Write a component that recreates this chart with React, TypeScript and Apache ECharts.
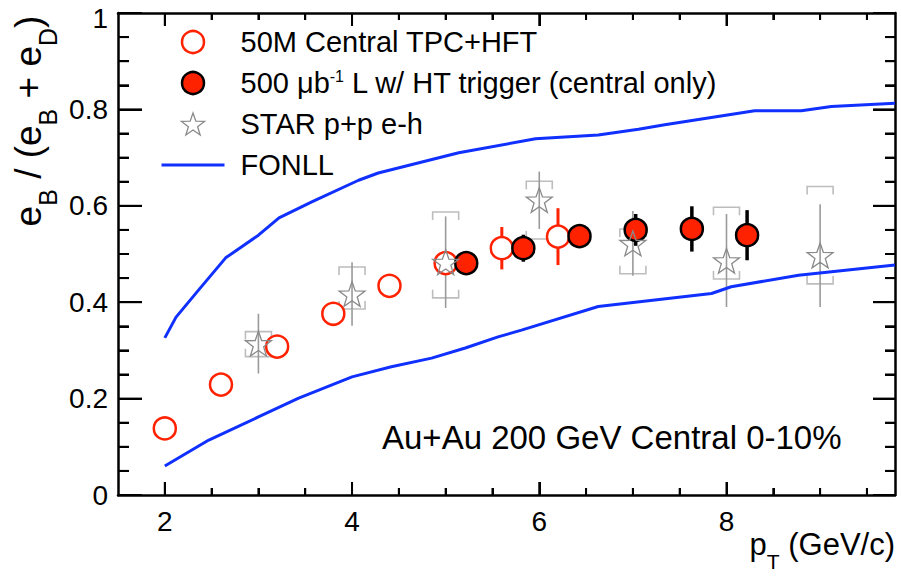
import React, { useEffect, useRef } from 'react';
import * as echarts from 'echarts';

// ---- Data ----
const openX = [2.0, 2.6, 3.2, 3.8, 4.4, 5.0, 5.6, 6.2];
const openY = [0.138, 0.229, 0.308, 0.376, 0.434, 0.481, 0.512, 0.536];
const openErr = [0.005, 0.006, 0.007, 0.008, 0.01, 0.024, 0.044, 0.059];

const filledX = [5.22, 5.83, 6.43, 7.03, 7.63, 8.22];
const filledY = [0.481, 0.512, 0.537, 0.55, 0.552, 0.539];
const filledErr = [0.024, 0.028, 0.022, 0.033, 0.047, 0.052];

const starX = [3, 4, 5, 6, 7, 8, 9];
const starY = [0.314, 0.417, 0.483, 0.612, 0.522, 0.486, 0.497];
const starStatLo = [0.252, 0.351, 0.388, 0.552, 0.455, 0.39, 0.39];
const starStatHi = [0.376, 0.483, 0.578, 0.671, 0.589, 0.583, 0.603];
const starSysLo = [0.287, 0.386, 0.409, 0.531, 0.459, 0.448, 0.438];
const starSysHi = [0.339, 0.473, 0.587, 0.651, 0.552, 0.597, 0.64];

const fonllUpX = [2.0, 2.12, 2.36, 2.65, 3.0, 3.22, 3.57, 4.07, 4.28, 5.14, 5.96, 6.63, 7.06, 7.34, 8.13, 8.3, 8.8, 9.12, 9.8];
const fonllUpY = [0.326, 0.369, 0.425, 0.492, 0.539, 0.575, 0.608, 0.653, 0.668, 0.71, 0.739, 0.747, 0.759, 0.768, 0.792, 0.797, 0.797, 0.806, 0.813];
const fonllLoX = [2.0, 2.47, 3.0, 3.43, 4.0, 4.42, 4.85, 5.21, 5.56, 5.81, 6.63, 7.84, 8.05, 8.77, 9.8];
const fonllLoY = [0.06, 0.114, 0.162, 0.201, 0.245, 0.266, 0.284, 0.305, 0.328, 0.342, 0.391, 0.418, 0.432, 0.456, 0.477];

// ---- Axis ticks ----
const X_MIN = 1.5;
const X_MAX = 9.8;
const Y_MIN = 0;
const Y_MAX = 1;
const xMajorTicks = [2, 4, 6, 8];
const xMinorTicks = [2.5, 3, 3.5, 4.5, 5, 5.5, 6.5, 7, 7.5, 8.5, 9, 9.5];
const yMajorTicks = [0.2, 0.4, 0.6, 0.8];
const yMinorTicks = [0.05, 0.1, 0.15, 0.25, 0.3, 0.35, 0.45, 0.5, 0.55, 0.65, 0.7, 0.75, 0.85, 0.9, 0.95];

const NAME_OPEN = '50M Central TPC+HFT';
const NAME_FILLED = '500 μb-1 L w/ HT trigger (central only)';
const NAME_STAR = 'STAR p+p e-h';
const NAME_FONLL = 'FONLL';

const FONT = '"Liberation Sans", Arial, Helvetica, sans-serif';
const RED = '#ff2200';
const BLUE = '#1030ff';
const STAR_PATH =
  'path://M50 0 L61.76 33.82 L97.55 34.55 L69.02 56.18 L79.39 90.45 L50 70 L20.61 90.45 L30.98 56.18 L2.45 34.55 L38.24 33.82 Z';

export default function App() {
  const ref = useRef<HTMLDivElement>(null);

  useEffect(() => {
    if (!ref.current) return;
    const chart = echarts.init(ref.current, null, { renderer: 'svg' });

    const mkAxisLine = () => ({ show: true, onZero: false, lineStyle: { color: '#000', width: 2.5 } });
    const mkTickLine = () => ({ color: '#000', width: 2 });

    const xAxisBase = (position: string, ticks: number[], len: number, showLine: boolean, labels: boolean) => ({
      type: 'value',
      min: X_MIN,
      max: X_MAX,
      position,
      splitLine: { show: false },
      axisLine: showLine ? mkAxisLine() : { show: false, onZero: false },
      axisTick: { show: true, inside: true, length: len, customValues: ticks, lineStyle: mkTickLine() },
      axisLabel: labels
        ? { show: true, customValues: ticks, fontSize: 28, margin: 12, color: '#000', fontFamily: FONT }
        : { show: false },
    });

    const errBar = (color: string, width: number) => (params: any, api: any) => {
      const x = api.value(0);
      const y = api.value(1);
      const e = api.value(2);
      const p1 = api.coord([x, y - e]);
      const p2 = api.coord([x, y + e]);
      return {
        type: 'line',
        shape: { x1: p1[0], y1: p1[1], x2: p2[0], y2: p2[1] },
        style: { stroke: color, lineWidth: width },
      };
    };

    const textGraphics: any[] = [
      {
        type: 'text',
        x: 29.5,
        y: 121,
        rotation: Math.PI / 2,
        style: {
          text: '{b|e}{s|B}{b| / (e}{s|B}{b| + e}{s|D}{b|)}',
          align: 'center',
          verticalAlign: 'middle',
          fill: '#000',
          rich: {
            b: { fontSize: 37, lineHeight: 40, verticalAlign: 'top', fontFamily: FONT, fill: '#000' },
            s: { fontSize: 25, lineHeight: 25, padding: [26, 0, 0, 0], verticalAlign: 'top', fontFamily: FONT, fill: '#000' },
          },
        },
      },
      {
        type: 'text',
        x: 895,
        y: 529,
        style: {
          text: '{b|p}{s|T}{b| (GeV/c)}',
          align: 'right',
          verticalAlign: 'top',
          fill: '#000',
          rich: {
            b: { fontSize: 31, lineHeight: 34, verticalAlign: 'top', fontFamily: FONT, fill: '#000' },
            s: { fontSize: 21, lineHeight: 21, padding: [22, 0, 0, 0], verticalAlign: 'top', fontFamily: FONT, fill: '#000' },
          },
        },
      },
      {
        type: 'text',
        x: 382,
        y: 437,
        style: {
          text: 'Au+Au 200 GeV Central 0-10%',
          fontSize: 33,
          fontFamily: FONT,
          fill: '#000',
          align: 'left',
          verticalAlign: 'middle',
        },
      },
    ];

    const option: any = {
      animation: false,
      backgroundColor: '#fff',
      grid: { left: 118, right: 6, top: 13, bottom: 89 },
      xAxis: [
        xAxisBase('bottom', xMajorTicks, 13, true, true),
        xAxisBase('bottom', xMinorTicks, 7, false, false),
        xAxisBase('top', xMajorTicks, 13, true, false),
        xAxisBase('top', xMinorTicks, 7, false, false),
      ],
      yAxis: [
        {
          type: 'value',
          min: Y_MIN,
          max: Y_MAX,
          interval: 0.2,
          position: 'left',
          axisLine: mkAxisLine(),
          axisTick: { show: true, inside: true, length: 24, lineStyle: mkTickLine() },
          minorTick: { show: true, splitNumber: 4, length: 11, lineStyle: mkTickLine() },
          axisLabel: {
            fontSize: 28,
            margin: 10,
            color: '#000',
            fontFamily: FONT,
            formatter: (v: number) => (v === 1 ? '{t|1}' : String(Math.round(v * 10) / 10)),
            rich: { t: { fontSize: 28, fontFamily: FONT, color: '#000', padding: [10, 0, 0, 0] } },
          },
          splitLine: { show: false },
          minorSplitLine: { show: false },
        },
        {
          type: 'value',
          min: Y_MIN,
          max: Y_MAX,
          interval: 0.2,
          position: 'right',
          axisLine: mkAxisLine(),
          axisTick: { show: true, inside: true, length: 22, lineStyle: mkTickLine() },
          minorTick: { show: true, splitNumber: 4, length: 10, lineStyle: mkTickLine() },
          axisLabel: { show: false },
          splitLine: { show: false },
          minorSplitLine: { show: false },
        },
      ],
      legend: {
        orient: 'vertical',
        left: 160,
        top: 27,
        padding: 0,
        itemWidth: 63,
        itemHeight: 22,
        itemGap: 11,
        selectedMode: false,
        symbolKeepAspect: true,
        textStyle: {
          fontSize: 29,
          lineHeight: 30,
          color: '#000',
          fontFamily: FONT,
          padding: [0, 0, 0, 11],
          rich: {
            a: { fontSize: 29, lineHeight: 30, color: '#000', fontFamily: FONT },
            sup: { fontSize: 16, lineHeight: 18, color: '#000', fontFamily: FONT, verticalAlign: 'top' },
          },
        },
        formatter: (name: string) =>
          name === NAME_FILLED
            ? '{a|500 μb}{sup|-1}{a| L w/ HT trigger (central only)}'
            : '{a|' + name + '}',
        data: [
          { name: NAME_OPEN, itemStyle: { borderWidth: 2.5 } },
          { name: NAME_FILLED, itemStyle: { borderWidth: 2.5 } },
          { name: NAME_STAR, itemStyle: { borderWidth: 1.3 } },
          { name: NAME_FONLL, itemStyle: { opacity: 0 }, lineStyle: { width: 3 } },
        ],
      },
      series: [
        {
          name: NAME_FONLL,
          type: 'line',
          symbol: 'none',
          data: fonllUpX.map((x, i) => [x, fonllUpY[i]]),
          lineStyle: { color: BLUE, width: 3 },
          itemStyle: { color: BLUE },
        },
        {
          name: NAME_FONLL,
          type: 'line',
          symbol: 'none',
          data: fonllLoX.map((x, i) => [x, fonllLoY[i]]),
          lineStyle: { color: BLUE, width: 3 },
          itemStyle: { color: BLUE },
        },
        {
          name: 'starSys',
          type: 'custom',
          encode: { x: 0, y: [1, 2] },
          data: starX.map((x, i) => [x, starSysLo[i], starSysHi[i]]),
          renderItem: (params: any, api: any) => {
            const x = api.value(0);
            const lo = api.coord([x, api.value(1)]);
            const hi = api.coord([x, api.value(2)]);
            const cx = lo[0];
            const w = 13;
            const leg = 8;
            const style = { stroke: '#bdbdbd', lineWidth: 1.6, fill: 'none' };
            return {
              type: 'group',
              children: [
                {
                  type: 'polyline',
                  shape: { points: [[cx - w, hi[1] + leg], [cx - w, hi[1]], [cx + w, hi[1]], [cx + w, hi[1] + leg]] },
                  style,
                },
                {
                  type: 'polyline',
                  shape: { points: [[cx - w, lo[1] - leg], [cx - w, lo[1]], [cx + w, lo[1]], [cx + w, lo[1] - leg]] },
                  style,
                },
              ],
            };
          },
        },
        {
          name: 'openErr',
          type: 'custom',
          encode: { x: 0, y: 1 },
          data: openX.map((x, i) => [x, openY[i], openErr[i]]),
          renderItem: errBar(RED, 3),
        },
        {
          name: NAME_OPEN,
          type: 'scatter',
          symbol: 'circle',
          symbolSize: 22,
          data: openX.map((x, i) => [x, openY[i]]),
          itemStyle: { color: '#fff', borderColor: RED, borderWidth: 2.5, opacity: 1 },
        },
        {
          name: 'filledErr',
          type: 'custom',
          encode: { x: 0, y: 1 },
          data: filledX.map((x, i) => [x, filledY[i], filledErr[i]]),
          renderItem: errBar('#000', 3.5),
        },
        {
          name: NAME_FILLED,
          type: 'scatter',
          symbol: 'circle',
          symbolSize: 22,
          data: filledX.map((x, i) => [x, filledY[i]]),
          itemStyle: { color: RED, borderColor: '#000', borderWidth: 2.5, opacity: 1 },
        },
        {
          name: 'starStat',
          type: 'custom',
          encode: { x: 0, y: [1, 2] },
          data: starX.map((x, i) => [x, starStatLo[i], starStatHi[i]]),
          renderItem: (params: any, api: any) => {
            const x = api.value(0);
            const lo = api.coord([x, api.value(1)]);
            const hi = api.coord([x, api.value(2)]);
            return {
              type: 'line',
              shape: { x1: lo[0], y1: lo[1], x2: hi[0], y2: hi[1] },
              style: { stroke: '#9a9a9a', lineWidth: 1.6 },
            };
          },
        },
        {
          name: NAME_STAR,
          type: 'scatter',
          symbol: STAR_PATH,
          symbolSize: 26,
          symbolKeepAspect: true,
          data: starX.map((x, i) => [x, starY[i]]),
          itemStyle: { color: 'rgba(255,255,255,0)', borderColor: '#8a8a8a', borderWidth: 1.3, opacity: 1 },
        },
      ],
      graphic: textGraphics,
    };

    chart.setOption(option);

    // Fallback frame ticks at the same places, positions from the chart's own scales
    const tickEls: any[] = [];
    const addLine = (x1: number, y1: number, x2: number, y2: number) => {
      tickEls.push({
        type: 'line',
        z: 100,
        silent: true,
        shape: { x1, y1, x2, y2 },
        style: { stroke: '#000', lineWidth: 2 },
      });
    };
    const yBottom = chart.convertToPixel({ yAxisIndex: 0 }, Y_MIN) as number;
    const yTop = chart.convertToPixel({ yAxisIndex: 0 }, Y_MAX) as number;
    const xLeft = chart.convertToPixel({ xAxisIndex: 0 }, X_MIN) as number;
    const xRight = chart.convertToPixel({ xAxisIndex: 0 }, X_MAX) as number;
    if ([yBottom, yTop, xLeft, xRight].every((v) => typeof v === 'number' && isFinite(v))) {
      const xTick = (v: number, len: number) => {
        const px = chart.convertToPixel({ xAxisIndex: 0 }, v) as number;
        addLine(px, yBottom, px, yBottom - len);
        addLine(px, yTop, px, yTop + len);
      };
      const yTick = (v: number, lenL: number, lenR: number) => {
        const py = chart.convertToPixel({ yAxisIndex: 0 }, v) as number;
        addLine(xLeft, py, xLeft + lenL, py);
        addLine(xRight, py, xRight - lenR, py);
      };
      xMajorTicks.forEach((v) => xTick(v, 13));
      xMinorTicks.forEach((v) => xTick(v, 7));
      yMajorTicks.forEach((v) => yTick(v, 24, 22));
      yMinorTicks.forEach((v) => yTick(v, 11, 10));
      chart.setOption({ graphic: [...textGraphics, ...tickEls] });
    }

    return () => {
      chart.dispose();
    };
  }, []);

  return (
    <div
      ref={ref}
      style={{ position: 'fixed', left: 0, top: 0, width: 901, height: 584, background: '#fff' }}
    />
  );
}
